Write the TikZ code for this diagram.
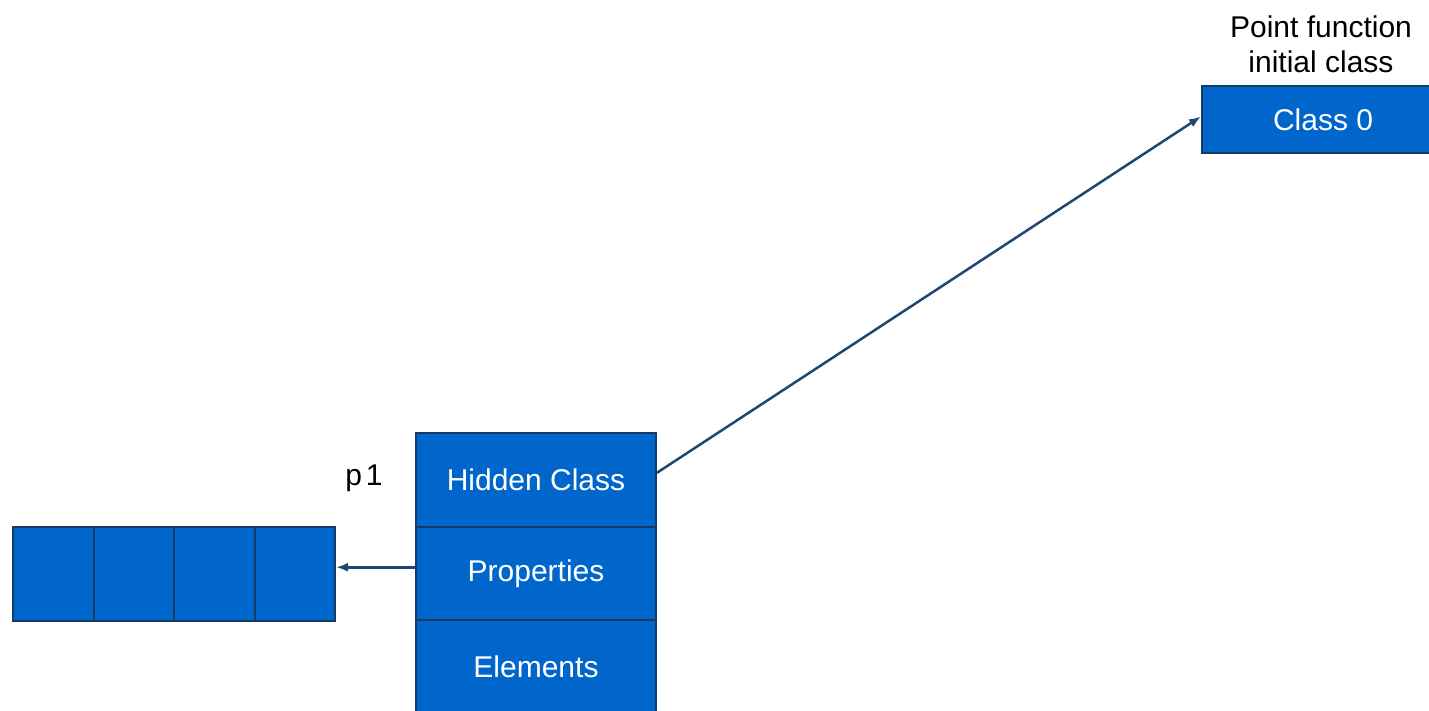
\documentclass[tikz,border=0pt]{standalone}
\usepackage{fontspec}
\setmainfont{Liberation Sans}
\usetikzlibrary{arrows.meta}
\definecolor{boxfill}{RGB}{0,102,204}
\definecolor{boxline}{RGB}{22,58,100}
\definecolor{arrowcol}{RGB}{30,72,115}
\begin{document}
\begin{tikzpicture}[x=1pt,y=-1pt,
  cell/.style={draw=boxline, line width=2pt, fill=boxfill, text=white,
    font=\fontsize{30}{36}\selectfont, inner sep=0pt, anchor=north west},
  slot/.style={cell, minimum width=80.5pt, minimum height=94pt},
  lbl/.style={text=black, font=\fontsize{30}{35}\selectfont, align=center, inner sep=0pt},
  ptr/.style={draw=arrowcol, line width=2.5pt, -{Latex[length=12pt,width=9pt]}}]
\useasboundingbox (0,0) rectangle (1429,711);
% object p1
\node[cell, minimum width=240pt, minimum height=93.5pt] (hc) at (415,432) {Hidden Class};
\node[cell, minimum width=240pt, minimum height=93.5pt] (pr) at (415,525.5) {Properties};
\node[cell, minimum width=240pt, minimum height=93.5pt] (el) at (415,619) {Elements};
\node[lbl] (p1) at (364,478) {p\kern4pt 1};
% properties array
\node[slot] (a1) at (12,526) {};
\node[slot] (a2) at (92.5,526) {};
\node[slot] (a3) at (173,526) {};
\node[slot] (a4) at (253.5,526) {};
% class 0
\node[cell, minimum width=242pt, minimum height=67pt] (c0) at (1201,85) {Class 0};
\node[lbl] (c0lbl) at (1321,44) {Point function\\initial class};
% pointers
\draw[ptr] ([yshift=7pt]hc.east) -- ([yshift=3pt]c0.west);
\draw[ptr] ([yshift=6pt]pr.west) -- ([yshift=6pt]pr.west -| a4.east);
\end{tikzpicture}
\end{document}
